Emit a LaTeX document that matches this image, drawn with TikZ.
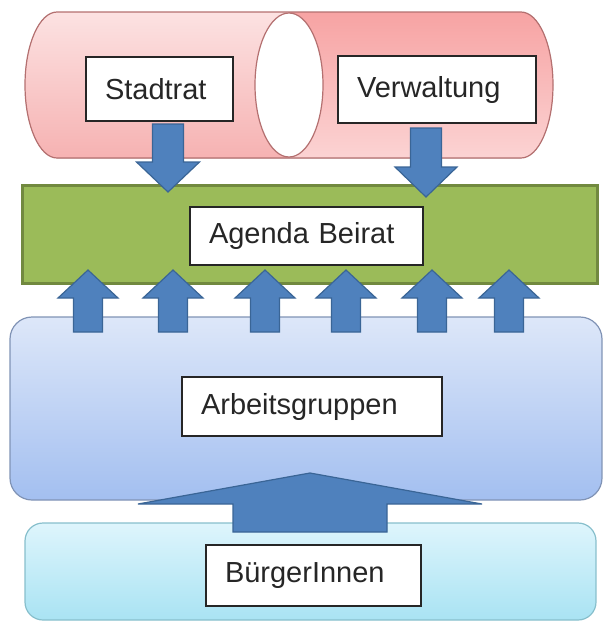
\documentclass[tikz,border=0pt]{standalone}
\usepackage{fontspec}
\setmainfont{Liberation Sans}

\definecolor{pinkleft}{HTML}{FCE2E2}
\definecolor{pinkleftlow}{HTML}{F6B2B2}
\definecolor{pinkright}{HTML}{F7A3A3}
\definecolor{pinkrightlow}{HTML}{FBD3D3}
\definecolor{cylinderedge}{HTML}{B47070}
\definecolor{greenfill}{HTML}{9BBB59}
\definecolor{greenedge}{HTML}{71893F}
\definecolor{arrowblue}{HTML}{4F81BD}
\definecolor{arrowedge}{HTML}{3A6596}
\definecolor{bluetop}{HTML}{DDE7F9}
\definecolor{bluelow}{HTML}{A3BFF0}
\definecolor{blueedge}{HTML}{8093B5}
\definecolor{cyantop}{HTML}{DEF5FC}
\definecolor{cyanlow}{HTML}{A9E3F3}
\definecolor{cyanedge}{HTML}{87BFCC}

\tikzset{
  labelbox/.style={rectangle, draw=black!85, line width=1.3pt, fill=white, inner xsep=19pt, inner ysep=0pt, align=left, text=black!85, font=\fontsize{29}{33}\selectfont},
  blockarrow/.style={fill=arrowblue, draw=arrowedge, line width=1.2pt, line join=miter},
  pics/blockup/.style n args={4}{code={
    \draw[blockarrow] (0,0) -- (#1,#2) -- (#3,#2) -- (#3,#4) -- (-#3,#4) -- (-#3,#2) -- (-#1,#2) -- cycle;
  }}
}

\begin{document}
\begin{tikzpicture}[x=1pt, y=-1pt]
    \useasboundingbox (0,0) rectangle (603,622);

    % Cylinder
    \fill[top color=pinkleft, bottom color=pinkleftlow] (289,12) -- (57,12) arc[start angle=270, end angle=90, x radius=32, y radius=73] -- (289,158) -- cycle;
    \fill[top color=pinkright, bottom color=pinkrightlow] (289,12) -- (521,12) arc[start angle=270, end angle=450, x radius=32, y radius=73] -- (289,158) -- cycle;
    \draw[cylinderedge, line width=1.2pt] (57,12) -- (521,12) arc[start angle=270, end angle=450, x radius=32, y radius=73] -- (57,158) arc[start angle=90, end angle=270, x radius=32, y radius=73] -- cycle;
    \draw[cylinderedge, line width=1.2pt, fill=white] (289,85) ellipse [x radius=34, y radius=72];

    % Layers
    \node [rectangle, draw=greenedge, line width=3pt, fill=greenfill, minimum width=575pt, minimum height=98pt, inner sep=0pt] (beirat) at (309.5,234) {};
    \node [rectangle, rounded corners=22pt, draw=blueedge, line width=1.2pt, top color=bluetop, bottom color=bluelow, minimum width=592pt, minimum height=183pt, inner sep=0pt] (gruppen) at (306,408.5) {};
    \node [rectangle, rounded corners=18pt, draw=cyanedge, line width=1.2pt, top color=cyantop, bottom color=cyanlow, minimum width=571pt, minimum height=97pt, inner sep=0pt] (buerger) at (310.5,571.5) {};

    % Labels
    \node [labelbox, text width=109pt, minimum height=64pt] (stadtrat) at (159.5,89) {Stadtrat};
    \node [labelbox, text width=160pt, minimum height=67pt] (verwaltung) at (437,89.5) {Verwaltung};
    \node [labelbox, text width=195pt, minimum height=58pt] (agenda) at (306.5,236) {Agenda Beirat};
    \node [labelbox, text width=222pt, minimum height=59pt] (arbeit) at (312,406.5) {Arbeitsgruppen};
    \node [labelbox, text width=177pt, minimum height=61pt] (buergerlabel) at (313.5,575.5) {BürgerInnen};

    % Arrow tips
    \coordinate (down1) at (168,192);
    \coordinate (down2) at (426,197);
    \coordinate (up1) at (88,270);
    \coordinate (up2) at (173,270);
    \coordinate (up3) at (265,270);
    \coordinate (up4) at (346,270);
    \coordinate (up5) at (432,270);
    \coordinate (up6) at (509,270);
    \coordinate (bigup) at (310,473);

    % Arrows
    \pic at (down1) {blockup={31.5}{-30}{15.5}{-68}};
    \pic at (down2) {blockup={31}{-30}{15.5}{-69}};
    \pic at (up1) {blockup={30}{28}{14.5}{62}};
    \pic at (up2) {blockup={30}{28}{14.5}{62}};
    \pic at (up3) {blockup={30}{28}{14.5}{62}};
    \pic at (up4) {blockup={30}{28}{14.5}{62}};
    \pic at (up5) {blockup={30}{28}{14.5}{62}};
    \pic at (up6) {blockup={30}{28}{14.5}{62}};
    \pic at (bigup) {blockup={172}{31}{77}{59}};
\end{tikzpicture}
\end{document}
